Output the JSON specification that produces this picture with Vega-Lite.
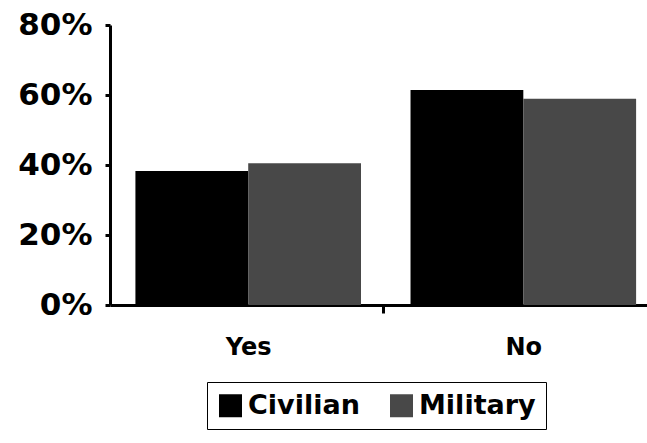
{
  "$schema": "https://vega.github.io/schema/vega-lite/v6.json",
  "autosize": "none",
  "padding": {"left": 110, "top": 25, "right": 0, "bottom": 138},
  "width": 537,
  "height": 280,
  "data": {"values": [
    {"answer": "Yes", "group": "Civilian", "value": 0.383},
    {"answer": "Yes", "group": "Military", "value": 0.405},
    {"answer": "No", "group": "Civilian", "value": 0.614},
    {"answer": "No", "group": "Military", "value": 0.589}
  ]},
  "mark": {"type": "bar"},
  "encoding": {
    "x": {"field": "answer", "type": "nominal", "sort": ["Yes", "No"],
      "scale": {"paddingInner": 0.18, "paddingOuter": 0.066, "align": 0.7},
      "axis": {"title": null, "labelAngle": 0, "ticks": true, "tickSize": 8, "tickWidth": 3, "tickOffset": 135, "labelOffset": -135,
        "domainWidth": 3, "domainColor": "black", "tickColor": "black",
        "labelFont": "DejaVu Sans", "labelFontWeight": "bold", "labelFontSize": 24, "labelColor": "black", "labelPadding": 22}},
    "xOffset": {"field": "group", "type": "nominal", "sort": ["Civilian", "Military"], "scale": {"paddingInner": 0, "paddingOuter": 0}},
    "y": {"field": "value", "type": "quantitative",
      "scale": {"domain": [0, 0.8]},
      "axis": {"title": null, "values": [0, 0.2, 0.4, 0.6, 0.8], "format": ".0%", "grid": false,
        "domainWidth": 3, "domainColor": "black", "tickColor": "black", "tickWidth": 3, "tickSize": 5,
        "labelFont": "DejaVu Sans", "labelFontWeight": "bold", "labelFontSize": 31, "labelColor": "black", "labelPadding": 13}},
    "color": {"field": "group", "type": "nominal", "sort": ["Civilian", "Military"],
      "scale": {"domain": ["Civilian", "Military"], "range": ["#000000", "#484848"]},
      "legend": {"title": null, "orient": "none", "legendX": 97, "legendY": 357, "direction": "horizontal", "symbolType": "square", "symbolSize": 529,
        "symbolStrokeWidth": 0, "strokeColor": "black", "padding": 10,
        "labelFont": "DejaVu Sans", "labelFontWeight": "bold", "labelFontSize": 27, "labelColor": "black",
        "columnPadding": 28, "labelOffset": 4}}
  },
  "config": {
    "view": {"stroke": null}
  }
}
